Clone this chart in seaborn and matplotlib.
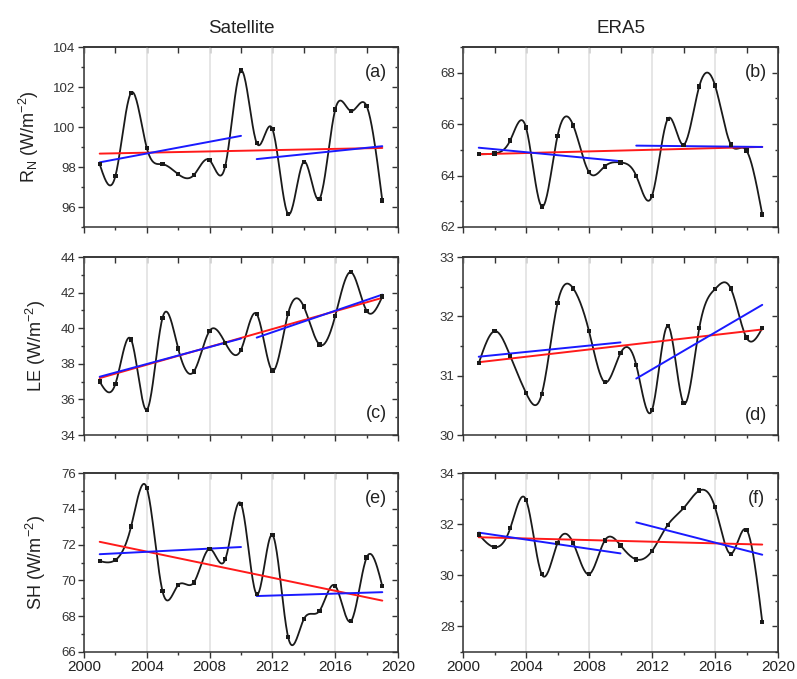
import numpy as np
import pandas as pd
import matplotlib
matplotlib.use("Agg")
import matplotlib.pyplot as plt
import seaborn as sns
from matplotlib.ticker import MultipleLocator

# ============================================================================
# DATA (annual means)
# ============================================================================

years = list(range(2001, 2020))

sat_rn = [98.14, 97.55, 101.71, 98.95, 98.14, 97.64, 97.60, 98.34, 98.06, 102.82,
          99.20, 99.90, 95.65, 98.26, 96.41, 100.87, 100.80, 101.05, 96.32]
era_rn = [64.83, 64.86, 65.37, 65.87, 62.80, 65.54, 65.95, 64.13, 64.36, 64.51,
          63.99, 63.21, 66.20, 65.20, 67.47, 67.51, 65.21, 64.97, 62.49]
sat_le = [37.00, 36.87, 39.36, 35.42, 40.58, 38.85, 37.57, 39.85, 39.17, 38.79,
          40.79, 37.62, 40.83, 41.21, 39.08, 40.68, 43.15, 40.98, 41.77]
era_le = [31.21, 31.75, 31.33, 30.71, 30.69, 32.22, 32.47, 31.75, 30.89, 31.38,
          31.18, 30.42, 31.84, 30.54, 31.80, 32.46, 32.47, 31.64, 31.80]
sat_sh = [71.08, 71.14, 73.01, 75.16, 69.40, 69.74, 69.89, 71.76, 71.18, 74.28,
          69.23, 72.54, 66.84, 67.83, 68.30, 69.70, 67.72, 71.27, 69.68]
era_sh = [31.60, 31.10, 31.84, 32.95, 30.04, 31.26, 31.26, 30.04, 31.36, 31.17,
          30.62, 30.95, 31.97, 32.62, 33.31, 32.66, 30.84, 31.78, 28.18]

col_titles = ["Satellite", "ERA5"]
row_labels = [r"R$_\mathrm{N}$ (W/m$^{-2}$)", r"LE (W/m$^{-2}$)", r"SH (W/m$^{-2}$)"]
panel_tags = ["(a)", "(b)", "(c)", "(d)", "(e)", "(f)"]
split_year = 2010


# ============================================================================
# HELPERS
# ============================================================================

def natural_spline(x, y, num=400):
    x = np.asarray(x, float)
    y = np.asarray(y, float)
    n = len(x)
    h = np.diff(x)
    A = np.zeros((n, n))
    b = np.zeros(n)
    A[0, 0] = 1
    A[-1, -1] = 1
    for i in range(1, n - 1):
        A[i, i - 1] = h[i - 1]
        A[i, i] = 2 * (h[i - 1] + h[i])
        A[i, i + 1] = h[i]
        b[i] = 6 * ((y[i + 1] - y[i]) / h[i] - (y[i] - y[i - 1]) / h[i - 1])
    M = np.linalg.solve(A, b)
    xs = np.linspace(x[0], x[-1], num)
    idx = np.clip(np.searchsorted(x, xs) - 1, 0, n - 2)
    x0, x1 = x[idx], x[idx + 1]
    hh = x1 - x0
    ys = (M[idx] * (x1 - xs) ** 3 / (6 * hh) + M[idx + 1] * (xs - x0) ** 3 / (6 * hh)
          + (y[idx] / hh - M[idx] * hh / 6) * (x1 - xs)
          + (y[idx + 1] / hh - M[idx + 1] * hh / 6) * (xs - x0))
    return xs, ys


def draw_panel(ax, values, ylim, ymajor, yminor, tag, tag_y, show_xlabels):
    df = pd.DataFrame({"year": years, "value": values})
    xs, ys = natural_spline(df["year"], df["value"])
    sns.lineplot(x=xs, y=ys, color="#1a1a1a", lw=1.3, sort=False, estimator=None, ax=ax)
    sns.scatterplot(data=df, x="year", y="value", marker="s", s=10, color="#1a1a1a",
                    edgecolor="none", ax=ax, zorder=5)

    # trends: whole period and the two sub-periods
    sns.regplot(data=df, x="year", y="value", scatter=False, ci=None, truncate=True,
                color="#ff1a1a", line_kws={"lw": 1.4, "zorder": 4}, ax=ax)
    early = df[df["year"] <= split_year]
    late = df[df["year"] > split_year]
    for part in (early, late):
        sns.regplot(data=part, x="year", y="value", scatter=False, ci=None, truncate=True,
                    color="#1a1aff", line_kws={"lw": 1.4, "zorder": 4}, ax=ax)

    ax.set_xlim(2000, 2020)
    ax.set_ylim(*ylim)
    ax.xaxis.set_major_locator(MultipleLocator(4))
    ax.xaxis.set_minor_locator(MultipleLocator(2))
    ax.yaxis.set_major_locator(MultipleLocator(ymajor))
    ax.yaxis.set_minor_locator(MultipleLocator(yminor))
    ax.grid(axis="x", which="major", color="#e4e4e4", lw=1.3)
    ax.set_axisbelow(True)
    ax.set_xlabel("")
    ax.set_ylabel("")
    ax.tick_params(axis="both", which="major", direction="out", length=4, width=1, color="#333333")
    ax.tick_params(axis="both", which="minor", direction="out", length=2.5, width=1, color="#333333")
    ax.tick_params(axis="y", labelsize=9.5, labelcolor="#333333", pad=2)
    ax.tick_params(axis="x", labelsize=11, labelcolor="#222222", pad=2)
    if not show_xlabels:
        ax.set_xticklabels([])
    for s in ax.spines.values():
        s.set_color("#333333")
        s.set_linewidth(1.1)

    # mirrored inward ticks on top and right
    top = ax.secondary_xaxis("top")
    top.xaxis.set_major_locator(MultipleLocator(4))
    top.xaxis.set_minor_locator(MultipleLocator(2))
    top.tick_params(which="major", direction="in", length=4, width=1, color="#333333", labeltop=False)
    top.tick_params(which="minor", direction="in", length=4, width=1, color="#333333")
    right = ax.secondary_yaxis("right")
    right.yaxis.set_major_locator(MultipleLocator(ymajor))
    right.yaxis.set_minor_locator(MultipleLocator(yminor))
    right.tick_params(which="major", direction="in", length=4, width=1, color="#333333", labelright=False)
    right.tick_params(which="minor", direction="in", length=2.5, width=1, color="#333333")
    for sec in (top, right):
        for s in sec.spines.values():
            s.set_color("#333333")
            s.set_linewidth(1.1)

    ax.text(0.93, tag_y, tag, transform=ax.transAxes, ha="center", va="center",
            fontsize=13, color="#222222")


# ============================================================================
# FIGURE
# ============================================================================

sns.set_style("ticks")
plt.rcParams["font.family"] = ["Liberation Sans", "DejaVu Sans"]
plt.rcParams["mathtext.fontset"] = "custom"
plt.rcParams["mathtext.rm"] = "Liberation Sans"
plt.rcParams["mathtext.it"] = "Liberation Sans:italic"

fig = plt.figure(figsize=(7.97, 6.79), dpi=100)

W, H = 797.0, 679.0
col_x = [(84, 398), (463, 778)]
row_y = [(47, 227), (257, 435), (473, 652)]

series = [[sat_rn, era_rn], [sat_le, era_le], [sat_sh, era_sh]]
limits = [[((95, 104), 2, 1), ((62, 69), 2, 1)],
          [((34, 44), 2, 1), ((30, 33), 1, 0.5)],
          [((66, 76), 2, 1), ((27, 34), 2, 1)]]
tag_ys = [[0.86, 0.86], [0.12, 0.11], [0.86, 0.86]]

axes = []
for r in range(3):
    for c in range(2):
        x0, x1 = col_x[c]
        y0, y1 = row_y[r]
        ax = fig.add_axes([x0 / W, 1 - y1 / H, (x1 - x0) / W, (y1 - y0) / H])
        lim, maj, mnr = limits[r][c]
        draw_panel(ax, series[r][c], lim, maj, mnr, panel_tags[r * 2 + c],
                   tag_ys[r][c], show_xlabels=(r == 2))
        if c == 0:
            ax.set_ylabel(row_labels[r], fontsize=13, color="#222222", labelpad=9)
        if r == 0:
            ax.set_title(col_titles[c], fontsize=13.5, color="#222222", pad=10)
        axes.append(ax)

fig.savefig("out.png", dpi=100)
